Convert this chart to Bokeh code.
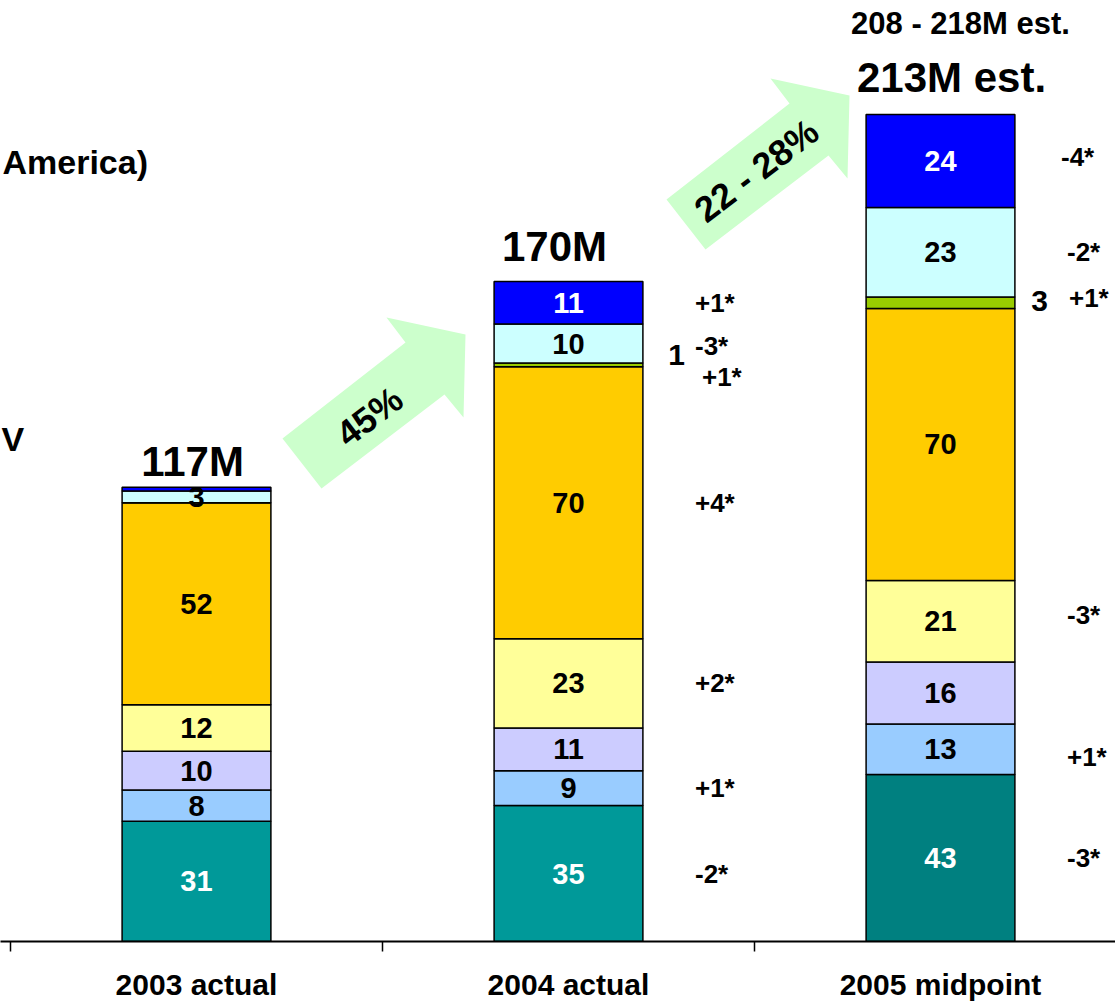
import numpy as np
from bokeh.plotting import figure
from bokeh.models import ColumnDataSource, Range1d, FixedTicker
from bokeh.core.properties import value
from bokeh.embed import file_html
from bokeh.resources import INLINE

# ---------------- data ----------------
categories = ["2003 actual", "2004 actual", "2005 midpoint"]
teal = [31, 35, 43]
light_blue = [8, 9, 13]
lavender = [10, 11, 16]
light_yellow = [12, 23, 21]
gold = [52, 70, 70]
green = [0, 1, 3]
cyan = [3, 10, 23]
blue = [1, 11, 24]
total_labels = ["117M", "170M", "213M est."]
range_label = "208 - 218M est."
growth_labels = ["45%", "22 - 28%"]
changes_2004 = {"teal": "-2*", "light_blue": "+1*", "light_yellow": "+2*", "gold": "+4*",
                "green": "+1*", "cyan": "-3*", "blue": "+1*"}
changes_2005 = {"teal": "-3*", "light_blue": "+1*", "light_yellow": "-3*",
                "green": "+1*", "cyan": "-2*", "blue": "-4*"}
side_texts = ["America)", "V"]

# ---------------- styling ----------------
series = [("teal", teal), ("light_blue", light_blue), ("lavender", lavender),
          ("light_yellow", light_yellow), ("gold", gold), ("green", green),
          ("cyan", cyan), ("blue", blue)]
colors = {"teal": "#009999", "light_blue": "#99CCFF", "lavender": "#CCCCFF",
          "light_yellow": "#FFFF99", "gold": "#FFCC00", "green": "#99CC00",
          "cyan": "#CCFFFF", "blue": "#0000FF"}
teal_last = "#008080"
white_text = {"teal", "blue"}
FONT = value("Liberation Sans")

AXIS_PX = 941
PX_PER_UNIT = 3.883

# pixel helpers (picture px -> data)
def X(px):
    return (px - 10) / 372.0

def Y(py):
    return (AXIS_PX - py) / PX_PER_UNIT

W, H = 1115, 1003
p = figure(width=W, height=H, output_backend="svg", toolbar_location=None,
           x_range=Range1d(X(0), X(W)), y_range=Range1d(0, AXIS_PX / PX_PER_UNIT),
           y_axis_location=None, min_border_left=0, min_border_right=0,
           min_border_top=0, min_border_bottom=H - AXIS_PX)
p.grid.visible = False
p.outline_line_color = None
p.background_fill_color = "white"

centers = np.arange(len(categories)) + 0.5
bar_w = 0.4

# ---------------- arrows ----------------
arrow_rel = [(-183, 104), (-60, 8), (-79, -17), (0, 0), (-2, 83), (-21, 60), (-144, 154)]
arrow_anchor = [(465, 334), (849, 95)]
for ax_, ay_ in arrow_anchor:
    p.patch([X(ax_ + dx) for dx, dy in arrow_rel], [Y(ay_ + dy) for dx, dy in arrow_rel],
            fill_color="#CCFFCC", line_color=None)
growth_pos = [(369, 416), (756, 170)]
p.text(x=[X(a) for a, b in growth_pos], y=[Y(b) for a, b in growth_pos], text=growth_labels,
       angle=0.648, text_align="center", text_baseline="middle",
       text_font=FONT, text_font_style="bold", text_font_size="36px", text_color="black")

# ---------------- bars ----------------
bottom = np.zeros(len(categories))
seg = {}
for name, vals in series:
    vals = np.array(vals, dtype=float)
    cols = [colors[name]] * len(categories)
    if name == "teal":
        cols[-1] = teal_last
    src = ColumnDataSource(dict(x=centers, bottom=bottom.copy(), top=bottom + vals, color=cols))
    p.vbar(x="x", bottom="bottom", top="top", width=bar_w, source=src,
           fill_color="color", line_color="black", line_width=1.5)
    seg[name] = (bottom.copy(), vals)
    bottom = bottom + vals
totals = bottom

# inside labels
lx, ly, lt, lc = [], [], [], []
for name, vals in series:
    b, v = seg[name]
    for i in range(len(categories)):
        if name != "green" and v[i] >= 3:
            lx.append(centers[i]); ly.append(b[i] + v[i] / 2); lt.append(str(int(v[i])))
            lc.append("white" if name in white_text else "black")
p.text(x=lx, y=ly, text=lt, text_color=lc, text_align="center", text_baseline="middle",
       text_font=FONT, text_font_style="bold", text_font_size="29px")

# green values outside the bar
gx, gy, gt, gxo, gyo = [], [], [], [], []
g_off = {1: (4, -10), 2: (-5, -2)}
b, v = seg["green"]
for i in range(len(categories)):
    if v[i] > 0:
        gx.append(centers[i] + 0.28); gy.append(b[i] + v[i] / 2); gt.append(str(int(v[i])))
        gxo.append(g_off.get(i, (0, 0))[0]); gyo.append(g_off.get(i, (0, 0))[1])
p.text(x=gx, y=gy, text=gt, x_offset=gxo, y_offset=gyo, text_align="center",
       text_baseline="middle", text_font=FONT, text_font_style="bold",
       text_font_size="30px", text_color="black")

# change annotations
cx, cy, ct, cxo, cyo = [], [], [], [], []
c_off = {(1, "green"): (7, 12), (1, "cyan"): (0, 2), (2, "light_blue"): (0, 8),
         (2, "green"): (2, -5), (2, "blue"): (-6, -4), (2, "light_yellow"): (0, -6)}
for i, changes in ((1, changes_2004), (2, changes_2005)):
    for name, txt in changes.items():
        b, v = seg[name]
        cx.append(centers[i] + 0.34); cy.append(b[i] + v[i] / 2); ct.append(txt)
        o = c_off.get((i, name), (0, 0))
        cxo.append(o[0]); cyo.append(o[1])
p.text(x=cx, y=cy, text=ct, x_offset=cxo, y_offset=cyo, text_align="left",
       text_baseline="middle", text_font=FONT, text_font_style="bold",
       text_font_size="26px", text_color="black")

# totals
p.text(x=centers, y=totals, text=total_labels, x_offset=[-4, -14, 11], y_offset=[-26, -35, -37],
       text_align="center", text_baseline="middle", text_font=FONT, text_font_style="bold",
       text_font_size="42px", text_color="black")
p.text(x=[X(960)], y=[Y(23)], text=[range_label], text_align="center", text_baseline="middle",
       text_font=FONT, text_font_style="bold", text_font_size="31px", text_color="black")

# side texts (partly shown in the reference)
p.text(x=[X(2)], y=[Y(161)], text=[side_texts[0]], text_align="left", text_baseline="middle",
       text_font=FONT, text_font_style="bold", text_font_size="34px", text_color="black")
p.text(x=[X(1)], y=[Y(438)], text=[side_texts[1]], text_align="left", text_baseline="middle",
       text_font=FONT, text_font_style="bold", text_font_size="34px", text_color="black")

# ---------------- axis ----------------
ax = p.xaxis[0]
ax.ticker = FixedTicker(ticks=list(centers), minor_ticks=list(range(len(categories) + 1)))
ax.major_label_overrides = {float(c): cat for c, cat in zip(centers, categories)}
ax.major_tick_out = 0
ax.major_tick_in = 0
ax.minor_tick_out = 10
ax.minor_tick_in = 0
ax.minor_tick_line_color = "black"
ax.minor_tick_line_width = 1.5
ax.axis_line_color = "black"
ax.axis_line_width = 2
ax.major_label_standoff = 16
ax.major_label_text_font = "Liberation Sans"
ax.major_label_text_font_style = "bold"
ax.major_label_text_font_size = "30px"
ax.major_label_text_color = "black"

open("out.html", "w").write(file_html(p, INLINE))
